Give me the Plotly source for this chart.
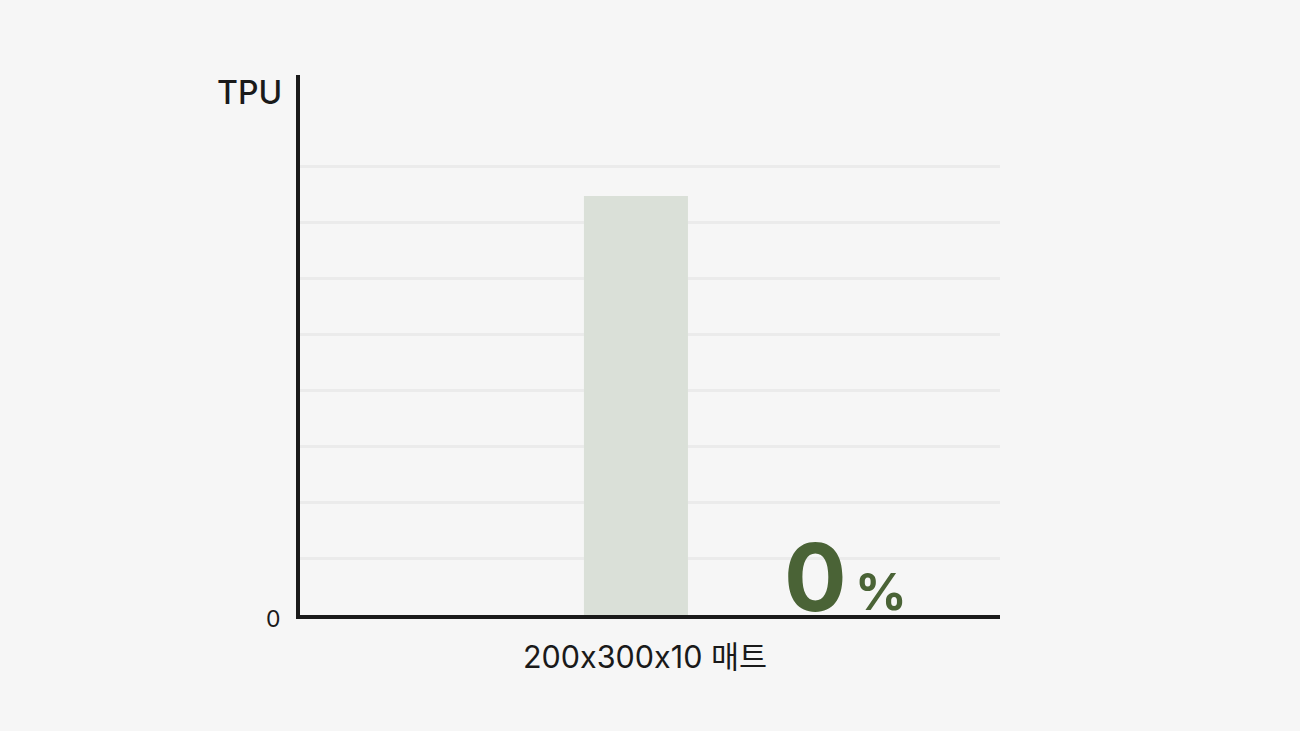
import plotly.graph_objects as go

# data
categories = ["200\u200cx\u200c300\u200cx\u200c10 매트"]
tpu_values = [7.48]
y_ticks = [0, 1, 2, 3, 4, 5, 6, 7, 8]
y_tick_text = ["0", "", "", "", "", "", "", "", ""]
percent_label = "0"

font_family = "Inter, Noto Sans CJK KR, sans-serif"

fig = go.Figure()

fig.add_trace(go.Bar(
    x=[0], y=tpu_values,
    width=1.0,
    marker=dict(color="#dae0d8", line=dict(width=0)),
    hoverinfo="none",
    showlegend=False
))

fig.update_layout(
    width=1300, height=731,
    margin=dict(l=300, r=300, t=75, b=116),
    paper_bgcolor="#f6f6f6",
    plot_bgcolor="#f6f6f6",
    font=dict(family=font_family, color="#1a1a1a"),
    xaxis=dict(
        range=[-3.23, 3.5],
        showgrid=False, zeroline=False,
        showticklabels=False,
        showline=True, linewidth=4, linecolor="#1a1a1a",
        fixedrange=True
    ),
    yaxis=dict(
        range=[0, 9.64],
        tickvals=y_ticks, ticktext=y_tick_text,
        tickfont=dict(size=23, color="#1a1a1a"),
        ticks="", ticklabelstandoff=11, ticklabelshift=4,
        showgrid=True, gridcolor="#ebebeb", gridwidth=3,
        zeroline=False,
        showline=True, linewidth=4, linecolor="#1a1a1a",
        fixedrange=True
    ),
    annotations=[
        dict(text=categories[0], xref="paper", yref="paper", x=0.493, y=0,
             xanchor="center", yanchor="top", yshift=-21, showarrow=False,
             font=dict(size=30.5, color="#1a1a1a", family=font_family)),
        dict(text="TPU", xref="paper", yref="paper", x=-0.023, y=1.0,
             xanchor="right", yanchor="top", yshift=4, showarrow=False,
             font=dict(size=32, color="#1a1a1a", family=font_family, weight=500)),
        dict(text="<b>" + percent_label + "</b>", xref="paper", yref="y", x=0.689, y=0,
             xanchor="left", yanchor="bottom", yshift=-20, showarrow=False,
             font=dict(size=93, color="#4a6336", family=font_family)),
        dict(text="<b>%</b>", xref="paper", yref="y", x=0.79, y=0,
             xanchor="left", yanchor="bottom", yshift=-9, showarrow=False,
             font=dict(size=51, color="#4a6336", family=font_family)),
    ]
)

fig.write_html("out.html", config={"displayModeBar": False},
               post_script="document.body.style.margin='0';")
